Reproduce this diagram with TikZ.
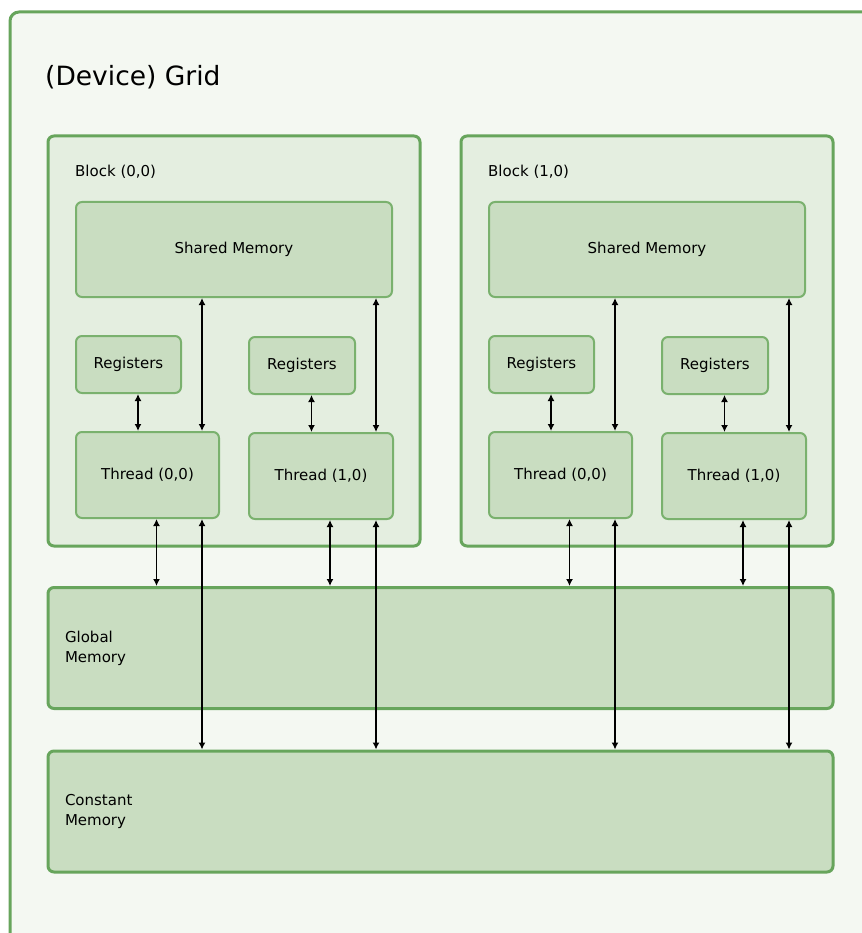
\documentclass[tikz,border=0pt]{standalone}
\usepackage{fontspec}
\setmainfont{DejaVu Sans}
\usetikzlibrary{arrows.meta}

\definecolor{gridfill}{HTML}{F4F8F2}
\definecolor{blockfill}{HTML}{E4EEE0}
\definecolor{memfill}{HTML}{C9DDC1}
\definecolor{edgegreen}{HTML}{67A55C}
\definecolor{lightedge}{HTML}{7AB16E}

\begin{document}
\begin{tikzpicture}[x=1pt,y=-1pt]
\tikzset{
  GridStyle/.style  = {draw=edgegreen, line width=3pt, fill=gridfill, rounded corners=9pt},
  BlockStyle/.style = {draw=edgegreen, line width=3pt, fill=blockfill, rounded corners=6pt},
  UnitStyle/.style  = {draw=lightedge, line width=2pt, fill=memfill, rounded corners=6pt,
                       inner sep=0pt, font=\fontsize{15}{19}\selectfont},
  MemStyle/.style   = {draw=edgegreen, line width=3pt, fill=memfill, rounded corners=6pt,
                       inner xsep=17pt, text width=751pt, align=left,
                       minimum width=785pt, minimum height=121pt,
                       font=\fontsize{15}{20}\selectfont},
  Label/.style      = {anchor=west, inner sep=0pt},
  Link/.style       = {{Latex[length=7pt,width=7pt]}-{Latex[length=7pt,width=7pt]}, line width=1.4pt}
}
\useasboundingbox[fill=white] (0,0) rectangle (861,933);
\node[GridStyle, minimum width=870pt, minimum height=948pt] (grid) at (445,486) {};
\node[Label, font=\fontsize{26.5}{30}\selectfont] (title) at (45,77) {(Device) Grid};
% block (0,0)
\node[BlockStyle, minimum width=372pt, minimum height=410pt] (blkA) at (234,341) {};
\node[Label, font=\fontsize{15}{19}\selectfont] (blkAname) at (75,172) {Block (0,0)};
\node[UnitStyle, minimum width=316pt, minimum height=95pt] (shmA) at (234,249.5) {Shared Memory};
\node[UnitStyle, minimum width=105pt, minimum height=57pt] (regA0) at (128.5,364.5) {Registers};
\node[UnitStyle, minimum width=106pt, minimum height=57pt] (regA1) at (302,365.5) {Registers};
\node[UnitStyle, minimum width=143pt, minimum height=86pt] (thrA0) at (147.5,475) {Thread (0,0)};
\node[UnitStyle, minimum width=144pt, minimum height=86pt] (thrA1) at (321,476) {Thread (1,0)};
% block (1,0)
\node[BlockStyle, minimum width=372pt, minimum height=410pt] (blkB) at (647,341) {};
\node[Label, font=\fontsize{15}{19}\selectfont] (blkBname) at (488,172) {Block (1,0)};
\node[UnitStyle, minimum width=316pt, minimum height=95pt] (shmB) at (647,249.5) {Shared Memory};
\node[UnitStyle, minimum width=105pt, minimum height=57pt] (regB0) at (541.5,364.5) {Registers};
\node[UnitStyle, minimum width=106pt, minimum height=57pt] (regB1) at (715,365.5) {Registers};
\node[UnitStyle, minimum width=143pt, minimum height=86pt] (thrB0) at (560.5,475) {Thread (0,0)};
\node[UnitStyle, minimum width=144pt, minimum height=86pt] (thrB1) at (734,476) {Thread (1,0)};
% device memories
\node[MemStyle] (glob) at (440.5,648) {Global\\Memory};
\node[MemStyle] (const) at (440.5,811.5) {Constant\\Memory};
% registers <-> threads
\draw[Link] ([xshift=9.5]regA0.south) -- ([xshift=9.5]regA0.south |- thrA0.north);
\draw[Link] ([xshift=9.5]regA1.south) -- ([xshift=9.5]regA1.south |- thrA1.north);
\draw[Link] ([xshift=9.5]regB0.south) -- ([xshift=9.5]regB0.south |- thrB0.north);
\draw[Link] ([xshift=9.5]regB1.south) -- ([xshift=9.5]regB1.south |- thrB1.north);
% shared memory <-> threads
\draw[Link] ([xshift=-18]thrA0.north east) -- ([xshift=-18]thrA0.north east |- shmA.south);
\draw[Link] ([xshift=-18]thrA1.north east) -- ([xshift=-18]thrA1.north east |- shmA.south);
\draw[Link] ([xshift=-18]thrB0.north east) -- ([xshift=-18]thrB0.north east |- shmB.south);
\draw[Link] ([xshift=-18]thrB1.north east) -- ([xshift=-18]thrB1.north east |- shmB.south);
% threads <-> global memory
\draw[Link] ([xshift=9]thrA0.south) -- ([xshift=9]thrA0.south |- glob.north);
\draw[Link] ([xshift=9]thrA1.south) -- ([xshift=9]thrA1.south |- glob.north);
\draw[Link] ([xshift=9]thrB0.south) -- ([xshift=9]thrB0.south |- glob.north);
\draw[Link] ([xshift=9]thrB1.south) -- ([xshift=9]thrB1.south |- glob.north);
% threads <-> constant memory
\draw[Link] ([xshift=-18]thrA0.south east) -- ([xshift=-18]thrA0.south east |- const.north);
\draw[Link] ([xshift=-18]thrA1.south east) -- ([xshift=-18]thrA1.south east |- const.north);
\draw[Link] ([xshift=-18]thrB0.south east) -- ([xshift=-18]thrB0.south east |- const.north);
\draw[Link] ([xshift=-18]thrB1.south east) -- ([xshift=-18]thrB1.south east |- const.north);
\end{tikzpicture}
\end{document}
